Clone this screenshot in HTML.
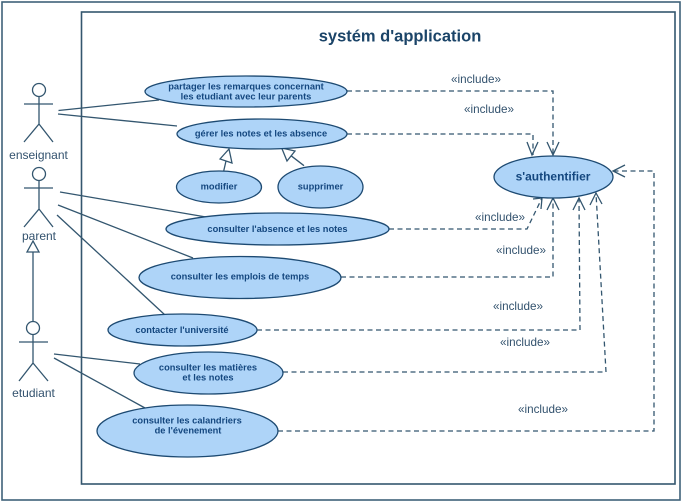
<!DOCTYPE html>
<html><head><meta charset="utf-8"><style>
html,body{margin:0;padding:0;background:#fff}
svg{display:block}
text{font-family:"Liberation Sans",sans-serif}
.u{font-size:9.3px;font-weight:bold;fill:#14477f;text-anchor:middle}
.a{font-size:12px;fill:#33526e;text-anchor:middle}
.i{font-size:11.700px;fill:#33526e;text-anchor:middle}
ellipse{fill:#aed4f8;stroke:#1d4a72;stroke-width:1.300}
.l{stroke:#33566f;stroke-width:1.300;fill:none}
.d{stroke:#33566f;stroke-width:1.300;fill:none;stroke-dasharray:5 3.500}
</style></head><body>
<svg width="682" height="501" viewBox="0 0 682 501" xmlns="http://www.w3.org/2000/svg">
<rect width="682" height="501" fill="#fff"/>
<rect x="2" y="2" width="678" height="498" fill="#fff" stroke="#3f6279" stroke-width="1.600"/>
<rect x="81.500" y="12" width="593.500" height="472" fill="#fff" stroke="#34566e" stroke-width="1.600"/>
<text x="400" y="41.500" text-anchor="middle" font-size="16.500" font-weight="bold" fill="#1b4468">systém d'application</text>

<g class="l">
<circle cx="39" cy="90" r="6.500"/><path d="M24 104H53M39 96.500V124L24 142M39 124L53 142"/>
<circle cx="39" cy="174" r="6.500"/><path d="M24 188H53M39 180.500V209L24 227M39 209L53 227"/>
<circle cx="33" cy="328" r="6.500"/><path d="M19 342H48M33 334.500V363L19 381M33 363L48 381"/>
<path d="M33 322V252"/><path d="M33 241L27 252H39Z"/>
<path d="M58.500 110.500L159 100M58 114L177 126M60 192L206 217M58 205L193 258M57 215L165 315M54 354L140 364M54 358L145 408"/>
<path d="M223.700 171L226 161"/><path d="M220 159L229 149L232 163Z" fill="#fff"/>
<path d="M304 165.700L291 155.700"/><path d="M281.700 148L295 151L287 161Z" fill="#fff"/>
</g>

<g class="d">
<path d="M347 91H553V155"/>
<path d="M347 134H533V155"/>
<path d="M389 229H527L542 198"/>
<path d="M341 277H553V198"/>
<path d="M257 330H580L579 198"/>
<path d="M283 372H606L596 193"/>
<path d="M278 431H654V171H614"/>
</g>
<g class="l">
<path d="M547 142L553 155L559 142"/>
<path d="M527 142L532 155L538 142"/>
<path d="M533 199L542 198L541 209"/>
<path d="M547 210L553 198L559 210"/>
<path d="M573 210L579 198L585 210"/>
<path d="M590 205L596 193L602 204"/>
<path d="M625 165L613 171L625 177"/>
</g>

<ellipse cx="246" cy="91.500" rx="101" ry="15.500"/>
<ellipse cx="262" cy="134" rx="85" ry="15"/>
<ellipse cx="219" cy="187" rx="42.500" ry="16"/>
<ellipse cx="320.500" cy="187" rx="42.500" ry="21"/>
<ellipse cx="277.500" cy="229" rx="111.500" ry="16"/>
<ellipse cx="240" cy="277.500" rx="101" ry="21"/>
<ellipse cx="182.500" cy="330" rx="74.500" ry="16"/>
<ellipse cx="208.500" cy="373" rx="74.500" ry="21"/>
<ellipse cx="187.500" cy="431" rx="90.500" ry="26"/>
<ellipse cx="553.500" cy="177" rx="59.500" ry="21"/>

<text class="u" x="246" y="89.500">partager les remarques concernant</text>
<text class="u" x="246" y="99.500">les etudiant avec leur parents</text>
<text class="u" x="261" y="136.500">gérer les notes et les absence</text>
<text class="u" x="219" y="189.500">modifier</text>
<text class="u" x="320.500" y="189.500">supprimer</text>
<text class="u" x="277.500" y="232">consulter l'absence et les notes</text>
<text class="u" x="240" y="279.500">consulter les emplois de temps</text>
<text class="u" x="182" y="333">contacter l'université</text>
<text class="u" x="208" y="370.500">consulter les matières</text>
<text class="u" x="208" y="380.500">et les notes</text>
<text class="u" x="187" y="423.500">consulter les calandriers</text>
<text class="u" x="188" y="433.500">de l'évenement</text>
<text x="553" y="180.500" text-anchor="middle" font-size="12" font-weight="bold" fill="#14477f">s'authentifier</text>

<text class="a" x="38.500" y="159">enseignant</text>
<text class="a" x="39" y="240">parent</text>
<text class="a" x="33.500" y="397">etudiant</text>

<text class="i" x="476" y="83">«include»</text>
<text class="i" x="489" y="113">«include»</text>
<text class="i" x="500" y="221">«include»</text>
<text class="i" x="521" y="254">«include»</text>
<text class="i" x="518" y="310">«include»</text>
<text class="i" x="525" y="346">«include»</text>
<text class="i" x="543" y="413">«include»</text>
</svg>
</body></html>
